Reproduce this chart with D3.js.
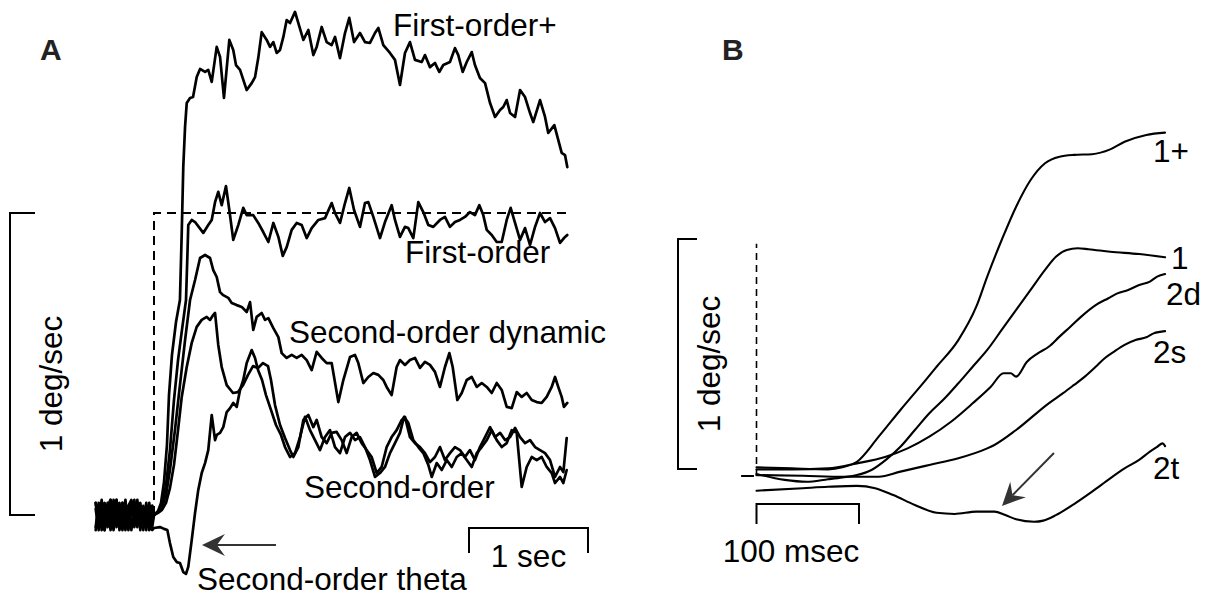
<!DOCTYPE html>
<html>
<head>
<meta charset="utf-8">
<script src="https://cdn.jsdelivr.net/npm/d3@7"></script>
<style>
  body { margin: 0; background: #fff; }
  svg { display: block; font-family: "Liberation Sans", Arial, Helvetica, sans-serif; }
  .trace { fill: none; stroke: #000; stroke-linejoin: round; stroke-linecap: round; }
  .bar { fill: none; stroke: #000; stroke-width: 2; }
  .lbl { font-size: 31.5px; fill: #000; }
  .panel { font-size: 30px; font-weight: bold; fill: #222; }
</style>
</head>
<body>
<script>
// ---------- panel A : velocity (deg/sec) vs time (sec) ----------
// pre-stimulus samples, shared times
const preT = [-0.49,-0.465,-0.44,-0.415,-0.39,-0.365,-0.34,-0.315,-0.29,-0.265,-0.24,-0.215,-0.19,-0.165,-0.14,-0.115,-0.09,-0.065,-0.04,-0.015];
const preFirstPlus = [0.04,-0.04,0.05,-0.03,0.03,-0.05,0.02,0.05,-0.03,0.04,-0.05,0.03,0.05,-0.02,0.04,-0.05,0.03,-0.03,0.04,-0.04];
const preFirst     = [-0.04,0.04,-0.05,0.03,-0.02,0.05,-0.04,0.02,0.04,-0.05,0.03,-0.04,0.02,0.05,-0.04,0.03,-0.03,0.04,-0.05,0.03];
const preDynamic   = [0.02,-0.05,0.03,0.04,-0.04,0.02,-0.03,0.05,-0.05,0.02,0.04,-0.04,0.03,-0.03,0.05,-0.04,0.02,-0.05,0.03,-0.02];
const preSecond    = [-0.05,0.03,-0.02,-0.05,0.04,-0.03,0.05,-0.04,0.02,-0.03,0.05,-0.05,0.04,-0.04,0.02,0.04,-0.05,0.03,-0.03,0.03];
const preTheta     = [0.04,-0.03,0.02,-0.05,0.03,0.05,-0.05,0.03,-0.04,0.04,-0.02,0.03,-0.05,0.04,-0.03,0.02,-0.04,0.03,-0.04,-0.05];

// [time s, velocity deg/s]
const firstOrderPlus = [[0,0],[.034,.013],[.059,.040],[.084,.109],[.109,.232],[.126,.397],[.151,.530],[.185,.639],[.218,.712],[.233,.934],[.246,1.152],[.261,1.285],[.275,1.364],[.303,1.381],[.328,1.384],[.359,1.450],[.387,1.477],[.429,1.467],[.456,1.474],[.485,1.434],[.527,1.550],[.555,1.517],[.588,1.381],[.633,1.573],[.666,1.540],[.689,1.490],[.723,1.474],[.779,1.407],[.821,1.430],[.849,1.450],[.876,1.513],[.905,1.599],[.947,1.573],[.975,1.550],[1.003,1.566],[1.031,1.530],[1.059,1.540],[1.087,1.583],[1.115,1.639],[1.143,1.629],[1.185,1.666],[1.213,1.629],[1.255,1.573],[1.297,1.606],[1.339,1.523],[1.367,1.550],[1.409,1.616],[1.451,1.566],[1.493,1.556],[1.521,1.583],[1.563,1.513],[1.605,1.596],[1.641,1.646],[1.681,1.566],[1.731,1.596],[1.773,1.566],[1.815,1.563],[1.857,1.596],[1.885,1.613],[1.927,1.556],[1.983,1.530],[2.025,1.507],[2.067,1.424],[2.109,1.530],[2.151,1.566],[2.193,1.507],[2.250,1.500],[2.277,1.523],[2.319,1.483],[2.361,1.497],[2.397,1.467],[2.431,1.490],[2.487,1.500],[2.529,1.546],[2.557,1.523],[2.594,1.467],[2.628,1.500],[2.670,1.533],[2.697,1.490],[2.739,1.447],[2.782,1.430],[2.824,1.364],[2.866,1.318],[2.908,1.341],[2.935,1.351],[2.964,1.374],[2.992,1.331],[3.034,1.318],[3.076,1.407],[3.118,1.384],[3.160,1.331],[3.187,1.301],[3.244,1.374],[3.286,1.318],[3.313,1.265],[3.364,1.291],[3.397,1.242],[3.426,1.199],[3.454,1.192],[3.473,1.152]];

const firstOrder = [[0,0],[.034,.010],[.067,.033],[.101,.099],[.134,.215],[.168,.381],[.202,.513],[.235,.613],[.269,.712],[.282,.877],[.288,.960],[.317,.977],[.345,.970],[.414,.934],[.456,.960],[.485,.977],[.513,1.036],[.540,1.070],[.569,1.026],[.605,1.089],[.633,1.010],[.666,.911],[.708,.960],[.750,1.017],[.779,.993],[.834,.993],[.876,.967],[.918,.937],[.961,.904],[1.003,.967],[1.045,.921],[1.082,.858],[1.115,.887],[1.157,.944],[1.199,.967],[1.241,.960],[1.283,.917],[1.325,.950],[1.381,.977],[1.437,.983],[1.493,1.033],[1.521,1.000],[1.563,.967],[1.605,1.033],[1.641,1.083],[1.681,1.010],[1.731,.954],[1.773,1.033],[1.801,1.036],[1.843,.987],[1.899,.917],[1.941,.970],[1.997,1.026],[2.025,.977],[2.067,.921],[2.109,.954],[2.137,.950],[2.179,.917],[2.221,1.036],[2.263,1.003],[2.305,.960],[2.347,.954],[2.403,.977],[2.445,.987],[2.487,.954],[2.529,.970],[2.571,.977],[2.613,.987],[2.655,1.003],[2.697,.993],[2.734,1.026],[2.767,.993],[2.796,.944],[2.838,.927],[2.880,.904],[2.922,.904],[2.964,.977],[2.997,1.017],[3.034,.967],[3.076,.911],[3.118,.950],[3.160,.894],[3.202,.954],[3.244,1.000],[3.286,.970],[3.328,.983],[3.370,.950],[3.412,.901],[3.445,.917],[3.473,.927]];

const secondDynamic = [[0,0],[.034,.010],[.067,.026],[.101,.066],[.134,.149],[.176,.281],[.218,.430],[.261,.579],[.303,.712],[.345,.778],[.387,.851],[.429,.861],[.471,.851],[.498,.811],[.527,.788],[.555,.738],[.582,.728],[.624,.719],[.653,.702],[.695,.695],[.737,.689],[.779,.672],[.807,.705],[.834,.613],[.863,.656],[.905,.669],[.933,.646],[.961,.652],[1.003,.619],[1.045,.589],[1.073,.536],[1.115,.520],[1.157,.530],[1.199,.520],[1.241,.530],[1.283,.513],[1.325,.480],[1.367,.540],[1.409,.520],[1.451,.503],[1.493,.503],[1.549,.374],[1.591,.447],[1.647,.523],[1.689,.530],[1.717,.503],[1.759,.437],[1.801,.457],[1.843,.470],[1.885,.464],[1.927,.447],[1.955,.424],[1.997,.397],[2.039,.490],[2.067,.513],[2.109,.497],[2.151,.513],[2.193,.520],[2.235,.487],[2.277,.507],[2.319,.497],[2.361,.474],[2.403,.424],[2.445,.490],[2.482,.536],[2.510,.490],[2.549,.381],[2.586,.404],[2.628,.447],[2.670,.457],[2.712,.424],[2.754,.437],[2.796,.424],[2.838,.404],[2.880,.437],[2.922,.414],[2.964,.358],[3.006,.354],[3.048,.407],[3.090,.391],[3.132,.404],[3.174,.381],[3.216,.374],[3.258,.371],[3.300,.391],[3.342,.424],[3.370,.457],[3.397,.424],[3.426,.391],[3.445,.358],[3.473,.371]];

const secondOrder = [[0,0],[.034,.007],[.067,.017],[.101,.040],[.134,.089],[.168,.166],[.202,.281],[.233,.391],[.275,.490],[.317,.570],[.359,.623],[.401,.646],[.443,.656],[.471,.646],[.492,.659],[.513,.669],[.540,.563],[.569,.490],[.611,.430],[.664,.404],[.706,.407],[.748,.430],[.790,.464],[.832,.493],[.874,.487],[.916,.503],[.958,.493],[.983,.447],[1.017,.364],[1.059,.298],[1.101,.255],[1.143,.215],[1.171,.192],[1.213,.225],[1.255,.315],[1.297,.331],[1.339,.291],[1.367,.315],[1.409,.258],[1.451,.238],[1.493,.272],[1.535,.275],[1.577,.248],[1.619,.205],[1.661,.258],[1.703,.272],[1.745,.238],[1.787,.215],[1.829,.192],[1.871,.139],[1.913,.159],[1.955,.225],[1.997,.258],[2.039,.281],[2.082,.315],[2.109,.325],[2.151,.258],[2.193,.238],[2.235,.225],[2.277,.205],[2.319,.175],[2.361,.192],[2.403,.225],[2.445,.182],[2.487,.205],[2.529,.225],[2.571,.215],[2.613,.192],[2.655,.215],[2.697,.182],[2.739,.225],[2.782,.258],[2.824,.291],[2.866,.258],[2.908,.272],[2.950,.248],[2.992,.258],[3.034,.288],[3.076,.258],[3.118,.238],[3.160,.248],[3.202,.225],[3.244,.215],[3.286,.205],[3.328,.182],[3.370,.126],[3.412,.159],[3.440,.142],[3.468,.255]];

const secondTheta = [[0,-.043],[.050,-.040],[.084,-.046],[.112,-.050],[.134,-.093],[.162,-.139],[.191,-.156],[.218,-.159],[.246,-.189],[.269,-.195],[.288,-.172],[.317,-.083],[.345,.007],[.372,.083],[.401,.139],[.429,.172],[.456,.215],[.485,.331],[.513,.248],[.527,.265],[.555,.272],[.582,.291],[.611,.341],[.639,.354],[.666,.371],[.695,.358],[.723,.414],[.750,.447],[.779,.503],[.821,.546],[.849,.520],[.874,.480],[.908,.447],[.941,.397],[.983,.348],[1.025,.298],[1.067,.265],[1.101,.225],[1.143,.192],[1.185,.205],[1.227,.258],[1.269,.325],[1.311,.281],[1.353,.248],[1.395,.215],[1.437,.258],[1.479,.281],[1.521,.225],[1.563,.205],[1.605,.258],[1.647,.272],[1.689,.248],[1.731,.258],[1.773,.225],[1.815,.182],[1.857,.126],[1.899,.139],[1.941,.159],[1.983,.205],[2.025,.238],[2.067,.272],[2.101,.325],[2.137,.305],[2.179,.248],[2.221,.225],[2.263,.205],[2.305,.166],[2.334,.126],[2.376,.172],[2.418,.149],[2.460,.182],[2.502,.159],[2.544,.192],[2.586,.205],[2.628,.182],[2.670,.159],[2.712,.205],[2.754,.225],[2.796,.248],[2.838,.281],[2.880,.248],[2.922,.225],[2.964,.238],[3.006,.281],[3.048,.272],[3.090,.093],[3.132,.159],[3.174,.192],[3.216,.182],[3.258,.192],[3.300,.159],[3.342,.139],[3.370,.106],[3.412,.126],[3.440,.106],[3.468,.149]];

// stimulus velocity step (dashed)
const stimulusA = [[0,0],[0,1],[3.47,1]];

// ---------- panel B : velocity (deg/sec) vs time (msec) ----------
const b1plus = [[0,.038],[34.6,.033],[69.8,.029],[83.9,.038],[98,.062],[119.2,.171],[140.4,.287],[165,.417],[175.7,.475],[196.9,.591],[214.4,.736],[225.1,.867],[239.2,1.026],[253.3,1.171],[267.4,1.287],[281.5,1.36],[295.6,1.388],[309.8,1.396],[327.3,1.399],[345.1,1.42],[359.1,1.453],[380.3,1.483],[398.5,1.493]];
const b1 = [[0,.009],[27.5,-.017],[48.7,-.025],[69.8,-.014],[83.9,-.006],[98,.004],[112.2,.026],[126.2,.07],[140.4,.127],[154.5,.2],[168.6,.273],[183.9,.339],[196.9,.403],[210.9,.475],[225.1,.548],[239.2,.635],[253.3,.722],[267.4,.809],[281.5,.896],[292.1,.953],[302.7,.983],[313.3,.99],[323.9,.986],[345.1,.975],[373.3,.965],[398.6,.951]];
const b2d = [[0,.029],[34.6,.029],[69.8,.033],[98,.055],[126.2,.084],[147.4,.12],[168.6,.171],[189.8,.236],[210.9,.316],[228.6,.388],[241,.447],[248,.447],[253.3,.432],[263.9,.497],[274.4,.533],[285.1,.562],[295.6,.606],[306.2,.649],[316.8,.693],[330.9,.743],[343.3,.773],[352.1,.794],[362.6,.809],[373.3,.83],[383.8,.845],[390.9,.867],[398.6,.878]];
const b2s = [[0,.004],[45.1,.001],[83.9,-.003],[119.2,-.003],[140.4,.019],[168.6,.048],[196.9,.077],[225.1,.12],[232.1,.135],[253.3,.2],[285.1,.316],[299.1,.36],[309.8,.396],[320.3,.432],[330.9,.475],[339.7,.512],[348.6,.54],[359.1,.57],[369.8,.591],[380.3,.603],[387.4,.62],[398.6,.63]];
const b2t = [[0,-.064],[45.1,-.053],[69.8,-.047],[98,-.043],[115.7,-.053],[133.4,-.083],[154.5,-.126],[175.7,-.16],[193.3,-.165],[214.4,-.155],[232.1,-.155],[242.7,-.17],[253.3,-.188],[270.9,-.199],[279.8,-.194],[292.1,-.17],[309.8,-.122],[327.4,-.068],[345.1,-.01],[359.1,.033],[373.3,.07],[383.8,.106],[390.9,.127],[396.2,.142],[398.6,.13]];

// ---------- drawing ----------
const svg = d3.select("body").append("svg")
    .attr("width", 1207)
    .attr("height", 596);

const xA = d3.scaleLinear().domain([-0.5, 3.5]).range([94.5, 570.5]);
const yA = d3.scaleLinear().domain([0, 1]).range([515, 213]);
const xB = d3.scaleLinear().domain([0, 400]).range([756.5, 1166.5]);
const yB = d3.scaleLinear().domain([0, 1]).range([476, 246]);

const lineA = d3.line().x(d => xA(d[0])).y(d => yA(d[1]));
const lineB = d3.line().x(d => xB(d[0])).y(d => yB(d[1])).curve(d3.curveMonotoneX);

function withPre(noise, post) {
    return preT.map((t, i) => [t, noise[i]]).concat(post);
}

const tracesA = [
    withPre(preTheta, secondTheta),
    withPre(preSecond, secondOrder),
    withPre(preDynamic, secondDynamic),
    withPre(preFirst, firstOrder),
    withPre(preFirstPlus, firstOrderPlus)
];

const gA = svg.append("g");
gA.append("path")
    .attr("d", lineA(stimulusA))
    .attr("fill", "none")
    .attr("stroke", "#000")
    .attr("stroke-width", 2)
    .attr("stroke-dasharray", "9,6");

gA.selectAll("path.trace")
    .data(tracesA)
    .enter()
    .append("path")
    .attr("class", "trace")
    .attr("stroke-width", 2.7)
    .attr("d", lineA);

// 1 deg/sec bracket (A)
gA.append("path").attr("class", "bar")
    .attr("d", `M35,${yA(1)}H10V${yA(0)}H35`);
gA.append("text").attr("class", "lbl")
    .attr("transform", `translate(62,384) rotate(-90)`)
    .attr("text-anchor", "middle")
    .text("1 deg/sec");

// 1 sec bar
const secBarY = yA(-0.043);
gA.append("path").attr("class", "bar")
    .attr("d", `M${xA(2.647)},${secBarY + 25}V${secBarY}H${xA(3.647)}V${secBarY + 25}`);
gA.append("text").attr("class", "lbl")
    .attr("x", (xA(2.647) + xA(3.647)) / 2).attr("y", 567)
    .attr("text-anchor", "middle").text("1 sec");

// labels A
const labelsA = [
    ["First-order+", 393, 36],
    ["First-order", 405, 263],
    ["Second-order dynamic", 289, 343],
    ["Second-order", 304, 498],
    ["Second-order theta", 197, 590]
];
gA.selectAll("text.name").data(labelsA).enter().append("text")
    .attr("class", "lbl name")
    .attr("x", d => d[1]).attr("y", d => d[2])
    .text(d => d[0]);

// arrow helper
function arrow(g, x1, y1, x2, y2) {
    const ang = Math.atan2(y2 - y1, x2 - x1);
    const ex = x2 - 15 * Math.cos(ang), ey = y2 - 15 * Math.sin(ang);
    g.append("line").attr("x1", x1).attr("y1", y1).attr("x2", ex).attr("y2", ey)
        .attr("stroke", "#333").attr("stroke-width", 2);
    g.append("path")
        .attr("d", "M0,0L-23,-11L-15,0L-23,11Z")
        .attr("fill", "#333")
        .attr("transform", `translate(${x2},${y2}) rotate(${ang * 180 / Math.PI})`);
}
arrow(gA, xA(1.025), yA(-0.099), xA(0.403), yA(-0.099));

gA.append("text").attr("class", "panel").attr("x", 40).attr("y", 60).text("A");

// ---------- panel B ----------
const gB = svg.append("g");
gB.append("line")
    .attr("x1", xB(0)).attr("x2", xB(0))
    .attr("y1", yB(0)).attr("y2", yB(1.01))
    .attr("stroke", "#000").attr("stroke-width", 1.6)
    .attr("stroke-dasharray", "7,5");
gB.append("line")
    .attr("x1", xB(-15)).attr("x2", xB(-2.5))
    .attr("y1", yB(0)).attr("y2", yB(0))
    .attr("stroke", "#000").attr("stroke-width", 2);

const tracesB = [b1plus, b1, b2d, b2s, b2t];
gB.selectAll("path.trace")
    .data(tracesB)
    .enter()
    .append("path")
    .attr("class", "trace")
    .attr("stroke-width", 2.1)
    .attr("d", lineB);

gB.append("path").attr("class", "bar")
    .attr("d", `M697,${yB(1.03)}H678V${yB(0.03)}H697`);
gB.append("text").attr("class", "lbl")
    .attr("transform", `translate(720,364) rotate(-90)`)
    .attr("text-anchor", "middle")
    .text("1 deg/sec");

const msBarY = yB(-0.122);
gB.append("path").attr("class", "bar")
    .attr("d", `M${xB(0)},${msBarY + 20}V${msBarY}H${xB(100)}V${msBarY + 20}`);
gB.append("text").attr("class", "lbl")
    .attr("x", 791).attr("y", 562)
    .attr("text-anchor", "middle").text("100 msec");

const labelsB = [
    ["1+", 1153, 162],
    ["1", 1171, 269],
    ["2d", 1166, 305],
    ["2s", 1153, 363],
    ["2t", 1153, 479]
];
gB.selectAll("text.name").data(labelsB).enter().append("text")
    .attr("class", "lbl name")
    .attr("x", d => d[1]).attr("y", d => d[2])
    .text(d => d[0]);

arrow(gB, xB(290.2), yB(0.1), xB(239.5), yB(-0.13));

gB.append("text").attr("class", "panel").attr("x", 722).attr("y", 60).text("B");
</script>
</body>
</html>
